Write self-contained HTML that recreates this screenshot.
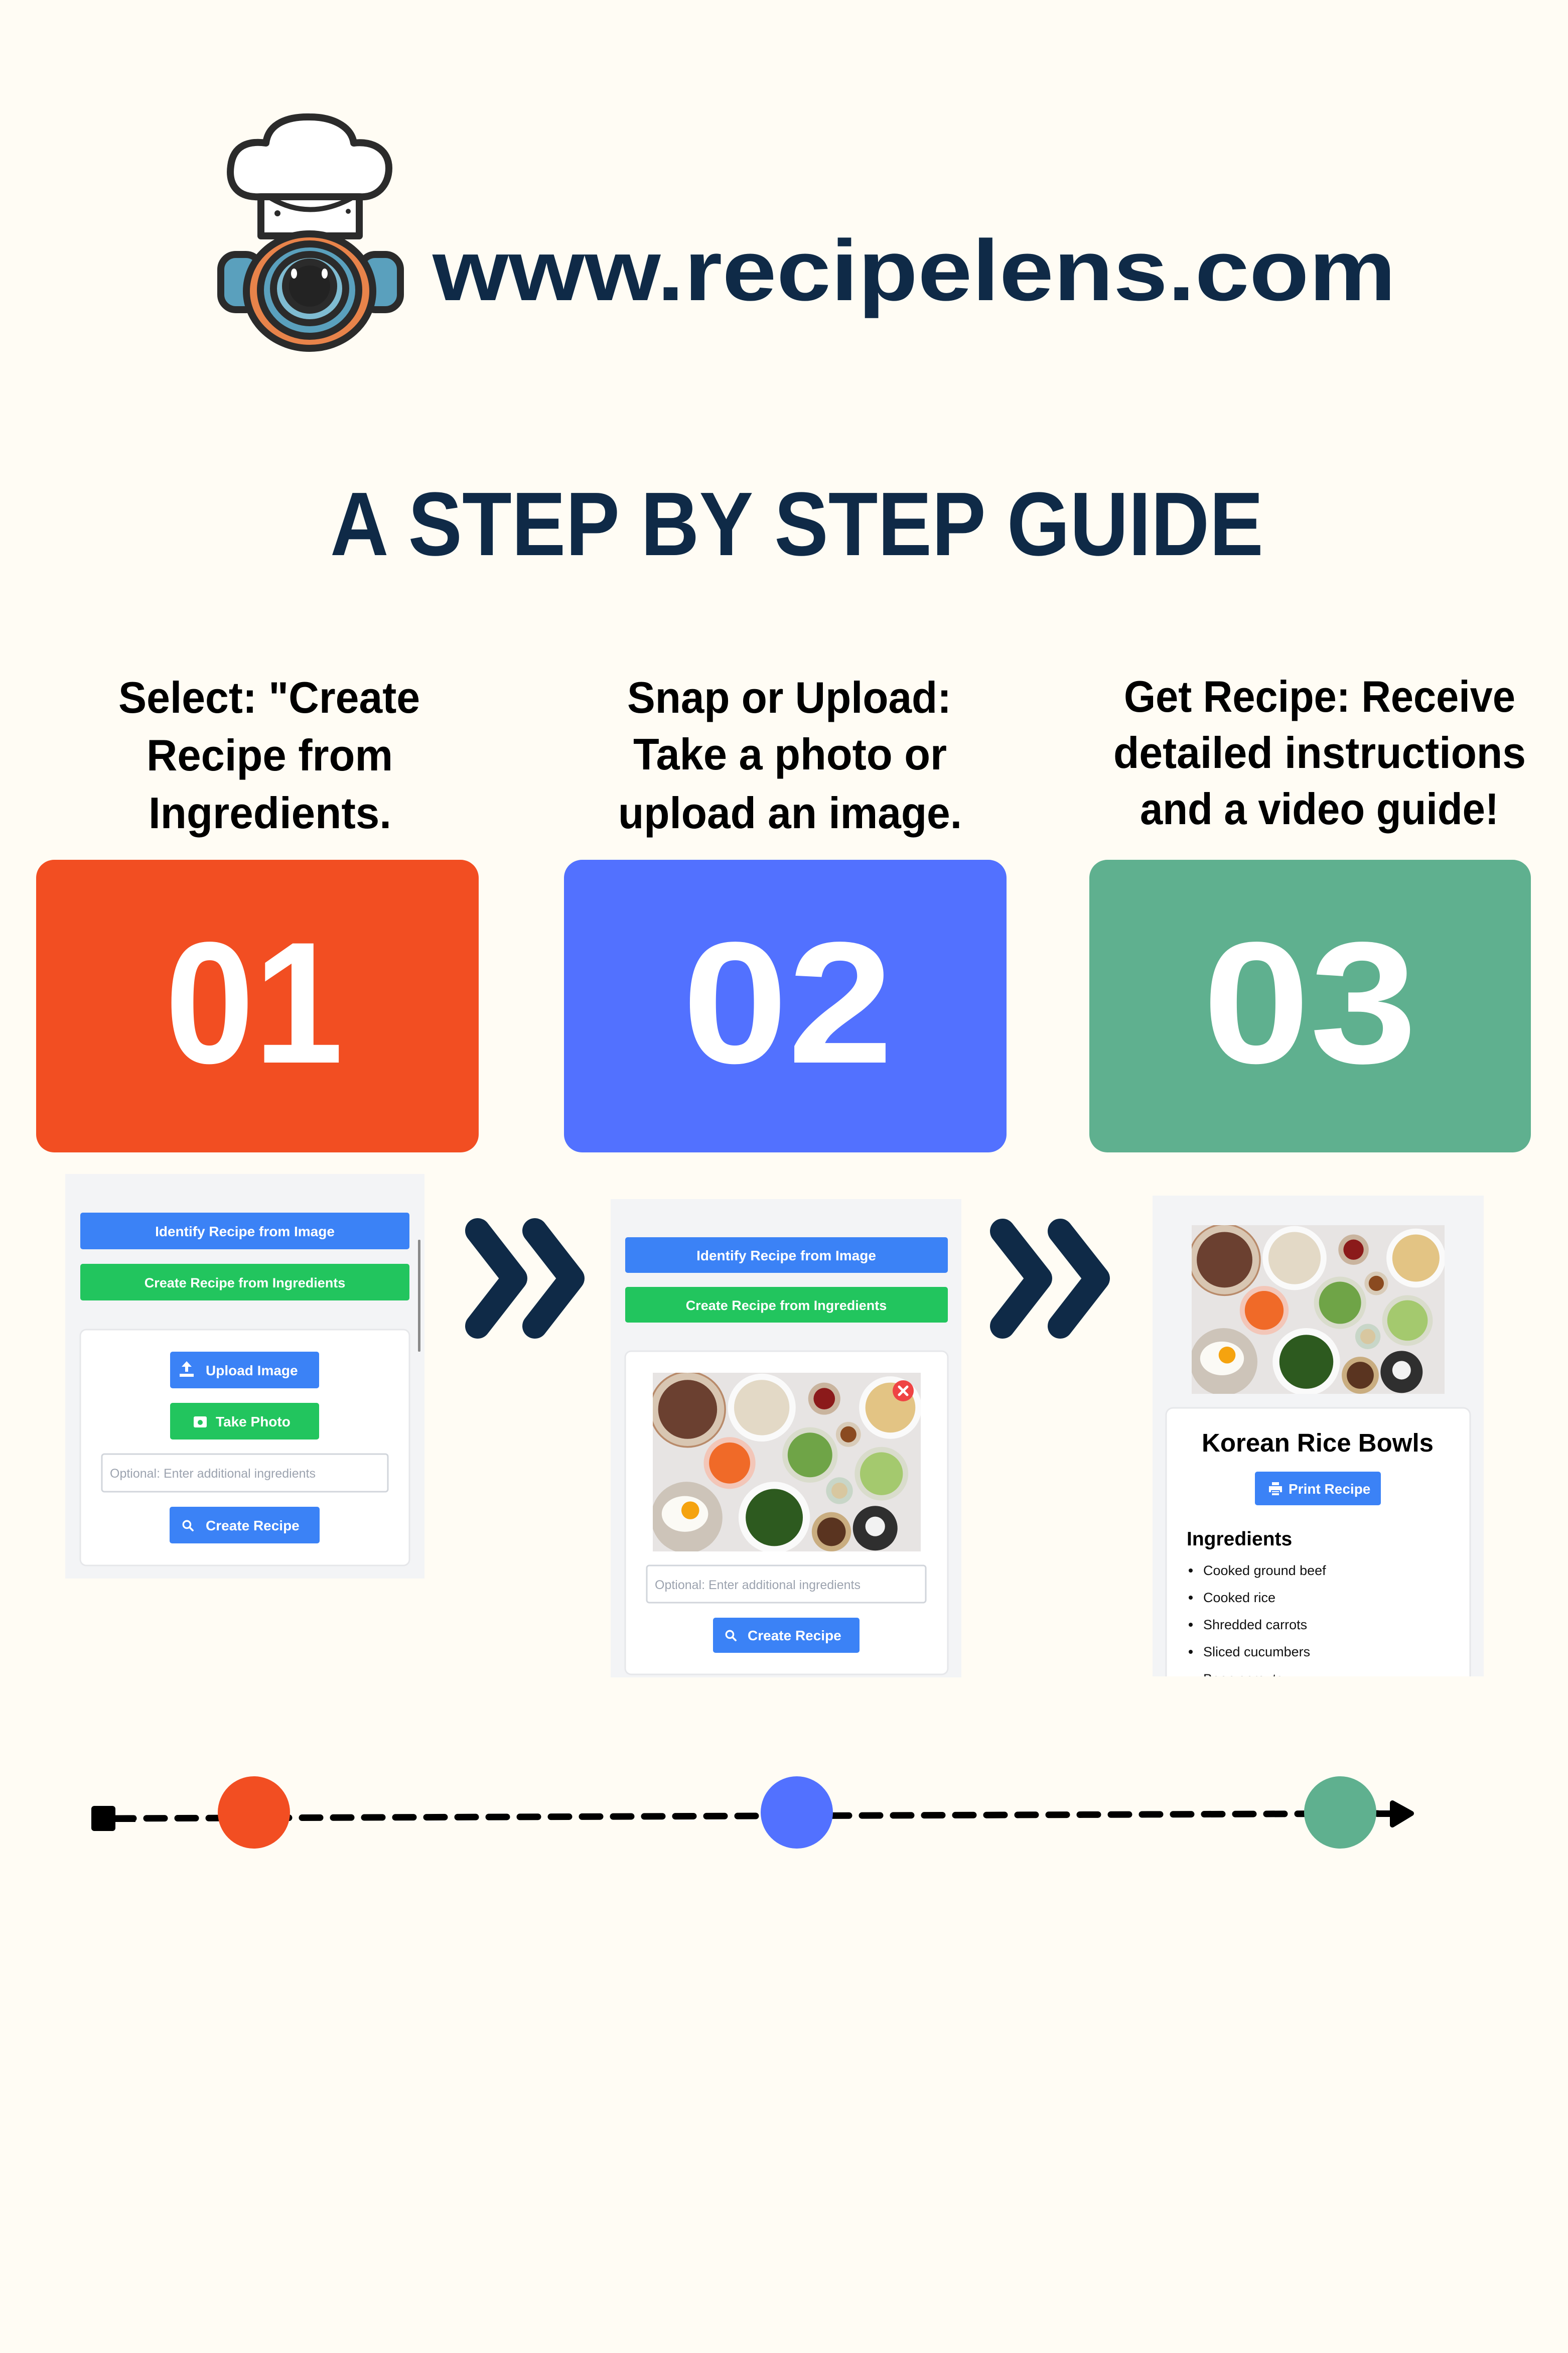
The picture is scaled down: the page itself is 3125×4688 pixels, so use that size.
<!DOCTYPE html>
<html><head><meta charset="utf-8"><style>
html,body{margin:0;padding:0;background:#fffcf4;}
svg{display:block}
text{font-family:"Liberation Sans",sans-serif}
</style></head><body>
<svg width="3125" height="4688" viewBox="0 0 3125 4688" xmlns="http://www.w3.org/2000/svg">
<defs>
<symbol id="food" viewBox="0 0 300 200" preserveAspectRatio="none">
<rect width="300" height="200" fill="#e7e4e3"/>
<circle cx="39" cy="41" r="42" fill="#d8c6b2" stroke="#b88a6a" stroke-width="2"/>
<circle cx="39" cy="41" r="33" fill="#6b4030"/>
<circle cx="122" cy="39" r="38" fill="#fafafa"/><circle cx="122" cy="39" r="31" fill="#e3d9c6"/>
<circle cx="192" cy="29" r="18" fill="#c9b49e"/><circle cx="192" cy="29" r="12" fill="#8b1a1a"/>
<circle cx="266" cy="39" r="35" fill="#fafafa"/><circle cx="266" cy="39" r="28" fill="#e3c484"/>
<circle cx="86" cy="101" r="29" fill="#f3c6b8"/><circle cx="86" cy="101" r="23" fill="#f06a28"/>
<circle cx="219" cy="69" r="14" fill="#d8cbb8"/><circle cx="219" cy="69" r="9" fill="#8a4a20"/>
<circle cx="176" cy="92" r="31" fill="#d9dccc"/><circle cx="176" cy="92" r="25" fill="#6fa447"/>
<circle cx="256" cy="113" r="30" fill="#d9dccc"/><circle cx="256" cy="113" r="24" fill="#a4c96e"/>
<circle cx="38" cy="162" r="40" fill="#cdc4b9"/>
<ellipse cx="36" cy="158" rx="26" ry="20" fill="#fbfaf5"/><circle cx="42" cy="154" r="10" fill="#f5a30f"/>
<circle cx="136" cy="162" r="40" fill="#fafafa"/><circle cx="136" cy="162" r="32" fill="#2d5a1f"/>
<circle cx="209" cy="132" r="15" fill="#c8d6c8"/><circle cx="209" cy="132" r="9" fill="#d8c7a0"/>
<circle cx="200" cy="178" r="22" fill="#c9ad80"/><circle cx="200" cy="178" r="16" fill="#5a3420"/>
<circle cx="249" cy="174" r="25" fill="#2f2f2f"/><circle cx="249" cy="172" r="11" fill="#f2f2f2"/>
</symbol>
<symbol id="search" viewBox="0 0 20 20"><circle cx="8" cy="8" r="5.5" fill="none" stroke="#fff" stroke-width="2.6"/><line x1="12" y1="12" x2="17" y2="17" stroke="#fff" stroke-width="2.8" stroke-linecap="round"/></symbol>
</defs>
<rect width="3125" height="4688" fill="#fffcf4"/>

<!-- logo -->
<g stroke="#2b2b2b" stroke-width="14" stroke-linejoin="round">
<rect x="440" y="507" width="80" height="110" rx="30" fill="#5aa0bd"/>
<rect x="718" y="507" width="80" height="110" rx="30" fill="#5aa0bd"/>
<path d="M520 392 L520 470 L716 470 L716 392 Z" fill="#fff"/>
<path d="M520 392 C470 395 455 365 460 330 C465 290 495 280 530 285 C535 245 575 232 617 233 C660 233 700 250 705 285 C745 280 775 300 775 335 C775 370 750 395 716 392 Z" fill="#fff"/>
<ellipse cx="617" cy="580" rx="126" ry="114" fill="#e8834a"/>
<ellipse cx="617" cy="578" rx="98" ry="92" fill="#5aa0bd"/>
<ellipse cx="617" cy="575" rx="72" ry="68" fill="#7fbcd2"/>
<circle cx="617" cy="570" r="48" fill="#232323"/>
</g>
<path d="M540 395 Q617 440 700 395" fill="none" stroke="#2b2b2b" stroke-width="10"/>
<circle cx="553" cy="425" r="6" fill="#2b2b2b"/><circle cx="694" cy="421" r="5" fill="#2b2b2b"/>
<ellipse cx="586" cy="545" rx="6" ry="10" fill="#fff"/><ellipse cx="647" cy="545" rx="6" ry="10" fill="#fff"/>

<text x="862" y="598" font-size="172" font-weight="bold" fill="#0f2a47" textLength="1920" lengthAdjust="spacingAndGlyphs">www.recipelens.com</text>
<text x="658" y="1106" font-size="180" font-weight="bold" fill="#0f2a47" textLength="1860" lengthAdjust="spacingAndGlyphs">A STEP BY STEP GUIDE</text>

<!-- step headings -->
<g font-size="88" font-weight="bold" fill="#000">
<text x="236" y="1420" textLength="601" lengthAdjust="spacingAndGlyphs">Select: "Create</text>
<text x="292" y="1535" textLength="491" lengthAdjust="spacingAndGlyphs">Recipe from</text>
<text x="296" y="1650" textLength="484" lengthAdjust="spacingAndGlyphs">Ingredients.</text>
<text x="1250" y="1420" textLength="646" lengthAdjust="spacingAndGlyphs">Snap or Upload:</text>
<text x="1262" y="1533" textLength="625" lengthAdjust="spacingAndGlyphs">Take a photo or</text>
<text x="1232" y="1650" textLength="685" lengthAdjust="spacingAndGlyphs">upload an image.</text>
<text x="2240" y="1418" textLength="780" lengthAdjust="spacingAndGlyphs">Get Recipe: Receive</text>
<text x="2219" y="1530" textLength="822" lengthAdjust="spacingAndGlyphs">detailed instructions</text>
<text x="2272" y="1642" textLength="715" lengthAdjust="spacingAndGlyphs">and a video guide!</text>
</g>

<!-- number boxes -->
<rect x="72" y="1713" width="882" height="583" rx="36" fill="#f24e22"/>
<rect x="1124" y="1713" width="882" height="583" rx="36" fill="#5271ff"/>
<rect x="2171" y="1713" width="880" height="583" rx="36" fill="#5fb08f"/>
<g font-size="345" font-weight="bold" fill="#fff">
<text x="329" y="2117" textLength="355" lengthAdjust="spacingAndGlyphs">01</text>
<text x="1360" y="2117" textLength="420" lengthAdjust="spacingAndGlyphs">02</text>
<text x="2397" y="2117" textLength="427" lengthAdjust="spacingAndGlyphs">03</text>
</g>

<!-- panel 1 -->
<rect x="130" y="2339" width="716" height="806" fill="#f3f4f6"/>
<rect x="833" y="2470" width="5" height="223" rx="2" fill="#8a8a8a"/>
<rect x="160" y="2416" width="656" height="73" rx="5" fill="#3b82f6"/>
<text x="488" y="2463" font-size="28" font-weight="bold" fill="#fff" text-anchor="middle">Identify Recipe from Image</text>
<rect x="160" y="2518" width="656" height="73" rx="5" fill="#22c55e"/>
<text x="488" y="2565" font-size="27" font-weight="bold" fill="#fff" text-anchor="middle">Create Recipe from Ingredients</text>
<rect x="160" y="2649" width="656" height="470" rx="12" fill="#fff" stroke="#e6e7ea" stroke-width="3"/>
<rect x="339" y="2693" width="297" height="73" rx="5" fill="#3b82f6"/>
<path d="M372 2712 l-10 11 h7 v10 h6 v-10 h7 z M358 2737 h28 v6 h-28 z" fill="#fff"/>
<text x="410" y="2740" font-size="28" font-weight="bold" fill="#fff">Upload Image</text>
<rect x="339" y="2795" width="297" height="73" rx="5" fill="#22c55e"/>
<rect x="386" y="2822" width="26" height="22" rx="3" fill="#fff"/><circle cx="399" cy="2834" r="5" fill="#22c55e"/>
<text x="430" y="2842" font-size="28" font-weight="bold" fill="#fff">Take Photo</text>
<rect x="203" y="2897" width="570" height="75" rx="5" fill="#fff" stroke="#d1d5db" stroke-width="3"/>
<text x="219" y="2944" font-size="25" fill="#9ca3af">Optional: Enter additional ingredients</text>
<rect x="338" y="3002" width="299" height="73" rx="5" fill="#3b82f6"/>
<use href="#search" x="362" y="3027" width="26" height="26"/>
<text x="410" y="3049" font-size="28" font-weight="bold" fill="#fff">Create Recipe</text>

<!-- chevrons -->
<g fill="none" stroke="#0f2a47" stroke-width="50" stroke-linecap="round" stroke-linejoin="round">
<polyline points="952,2452 1026,2547 952,2642"/>
<polyline points="1066,2452 1140,2547 1066,2642"/>
<polyline points="1998,2453 2072,2547 1998,2642"/>
<polyline points="2113,2453 2187,2547 2113,2642"/>
</g>

<!-- panel 2 -->
<rect x="1217" y="2389" width="699" height="953" fill="#f3f4f6"/>
<rect x="1246" y="2465" width="643" height="71" rx="5" fill="#3b82f6"/>
<text x="1567" y="2511" font-size="28" font-weight="bold" fill="#fff" text-anchor="middle">Identify Recipe from Image</text>
<rect x="1246" y="2564" width="643" height="71" rx="5" fill="#22c55e"/>
<text x="1567" y="2610" font-size="27" font-weight="bold" fill="#fff" text-anchor="middle">Create Recipe from Ingredients</text>
<rect x="1246" y="2692" width="643" height="644" rx="12" fill="#fff" stroke="#e6e7ea" stroke-width="3"/>
<use href="#food" x="1301" y="2735" width="534" height="356"/>
<circle cx="1800" cy="2771" r="21" fill="#ef4444"/>
<path d="M1792 2763 l16 16 M1808 2763 l-16 16" stroke="#fff" stroke-width="5" stroke-linecap="round"/>
<rect x="1289" y="3119" width="556" height="74" rx="5" fill="#fff" stroke="#d1d5db" stroke-width="3"/>
<text x="1305" y="3166" font-size="25" fill="#9ca3af">Optional: Enter additional ingredients</text>
<rect x="1421" y="3223" width="292" height="70" rx="5" fill="#3b82f6"/>
<use href="#search" x="1444" y="3246" width="26" height="26"/>
<text x="1490" y="3268" font-size="28" font-weight="bold" fill="#fff">Create Recipe</text>

<!-- panel 3 -->
<rect x="2297" y="2382" width="660" height="958" fill="#f3f4f6"/>
<use href="#food" x="2375" y="2441" width="504" height="336"/>
<clipPath id="c3"><rect x="2297" y="2382" width="660" height="958"/></clipPath>
<g clip-path="url(#c3)">
<rect x="2324" y="2805" width="606" height="600" rx="14" fill="#fff" stroke="#e6e7ea" stroke-width="3"/>
<text x="2626" y="2892" font-size="51" font-weight="bold" fill="#000" text-anchor="middle">Korean Rice Bowls</text>
<rect x="2501" y="2932" width="251" height="67" rx="5" fill="#3b82f6"/>
<path d="M2534 2952 h16 v8 h-16 z M2528 2960 h28 v14 h-28 z M2534 2970 h16 v10 h-16 z" fill="#fff" stroke="#3b82f6" stroke-width="2"/>
<text x="2568" y="2976" font-size="28" font-weight="bold" fill="#fff">Print Recipe</text>
<text x="2365" y="3079" font-size="39" font-weight="bold" fill="#000">Ingredients</text>
<g font-size="27" fill="#111">
<circle cx="2373" cy="3129" r="4" fill="#111"/><text x="2398" y="3138">Cooked ground beef</text>
<circle cx="2373" cy="3183" r="4" fill="#111"/><text x="2398" y="3192">Cooked rice</text>
<circle cx="2373" cy="3237" r="4" fill="#111"/><text x="2398" y="3246">Shredded carrots</text>
<circle cx="2373" cy="3291" r="4" fill="#111"/><text x="2398" y="3300">Sliced cucumbers</text>
<circle cx="2373" cy="3345" r="4" fill="#111"/><text x="2398" y="3354">Bean sprouts</text>
</g>
</g>

<!-- timeline -->
<rect x="182" y="3598" width="48" height="50" rx="6" fill="#000"/>
<line x1="230" y1="3623" x2="2780" y2="3613" stroke="#000" stroke-width="13" stroke-linecap="round" stroke-dasharray="36 26"/>
<rect x="230" y="3617" width="40" height="13" fill="#000"/>
<rect x="2744" y="3607" width="40" height="13" fill="#000"/>
<path d="M2775 3592 L2813 3613 L2775 3636 Z" fill="#000" stroke="#000" stroke-width="10" stroke-linejoin="round"/>
<circle cx="506" cy="3611" r="72" fill="#f24e22"/>
<circle cx="1588" cy="3611" r="72" fill="#5271ff"/>
<circle cx="2671" cy="3611" r="72" fill="#5fb08f"/>
</svg>
</body></html>
